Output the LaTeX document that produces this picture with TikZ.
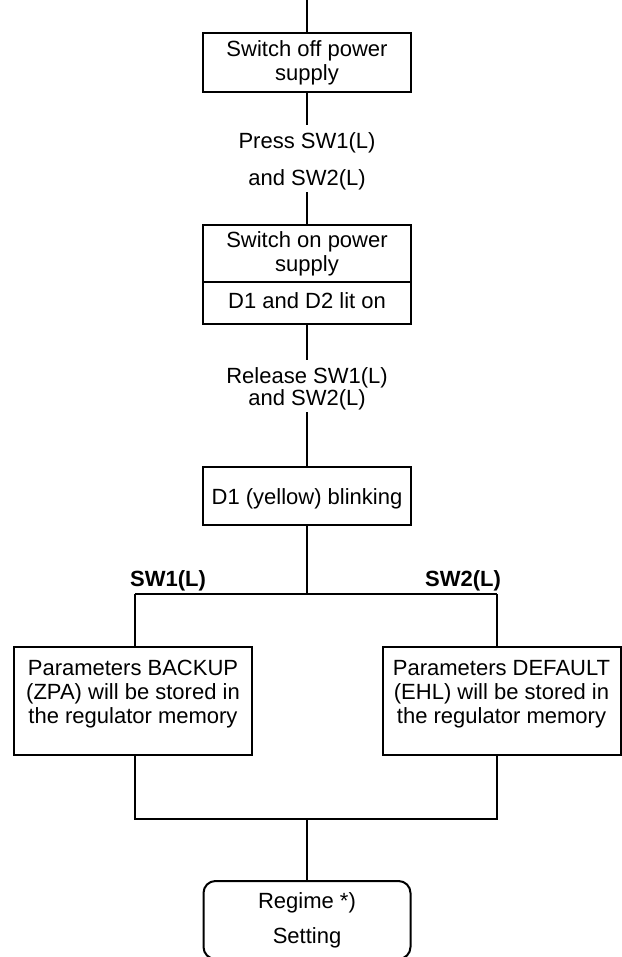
\documentclass[tikz,border=0pt]{standalone}
\usepackage{fontspec}
\setmainfont{Liberation Sans}
\usetikzlibrary{calc}

\begin{document}
\begin{tikzpicture}[line width=1pt,
box/.style={draw=black,rectangle, minimum width=104pt, minimum height=29.5pt, inner sep=2pt, outer sep=0pt, align=center,font=\fontsize{11}{12}\selectfont, execute at begin node={\rule{0pt}{11pt}}},
parbox/.style={box, minimum width=119pt, minimum height=54pt, text depth=9pt},
note/.style={inner sep=1pt, outer sep=0pt,font=\fontsize{11}{12}\selectfont, execute at begin node={\rule{0pt}{11pt}}},
key/.style={note,font=\fontsize{11}{12}\selectfont\bfseries},
final/.style={box, rounded corners=6pt, minimum width=103.5pt, minimum height=39pt}]
	\useasboundingbox (-153.5pt,0) rectangle (157pt,-478.5pt);
	\coordinate (top) at (0,0);
	\node[box,below] at ([yshift=-16.5pt]top) (b1) {Switch off power\\supply};
	\node[note] at ([yshift=-24pt]b1.south) (p1) {Press SW1(L)};
	\node[note] at ([yshift=-18.5pt]p1.center) (p2) {and SW2(L)};
	\node[box,below,minimum height=28.5pt] at ([yshift=-24pt]p2.center) (on) {Switch on power\\supply};
	\node[box,below,minimum height=21pt,text depth=6pt] at (on.south) (lit) {D1 and D2 lit on};
	\node[note] at ([yshift=-25.5pt]lit.south) (r1) {Release SW1(L)};
	\node[note] at ([yshift=-11pt]r1.center) (r2) {and SW2(L)};
	\node[box,minimum height=29pt] at ([yshift=-49.5pt]r2.center) (d1) {D1 (yellow) blinking};
	
	\coordinate (bl) at ([xshift=-86pt,yshift=-34.5pt]d1.south);
	\coordinate (br) at ([xshift=95pt,yshift=-34.5pt]d1.south);
	\node[key] at ([xshift=16.5pt,yshift=8pt]bl) (s1) {SW1(L)};
	\node[key] at ([xshift=-17pt,yshift=8pt]br) (s2) {SW2(L)};
	\node[parbox,below] at ([xshift=-1pt,yshift=-26.5pt]bl) (pl) {Parameters BACKUP\\(ZPA) will be stored in\\the regulator memory};
	\node[parbox,below] at ([xshift=2.25pt,yshift=-26.5pt]br) (pr) {Parameters DEFAULT\\(EHL) will be stored in\\the regulator memory};
	\coordinate (ml) at ([yshift=-112.5pt]bl);
	\coordinate (mr) at ([yshift=-112.5pt]br);
	\coordinate (mc) at (ml -| d1);
	\node[final,below] at ([yshift=-31pt]mc) (reg) {Regime *)\\[5.5pt]Setting};
	
	\draw (top) -- (b1);
	\draw (b1) -- (p1);
	\draw (p2) -- (on);
	\draw (lit) -- (r1);
	\draw (r2) -- (d1);
	\draw (d1) -- (d1 |- bl);
	\draw (bl) -- (br);
	\draw (bl) -- (bl |- pl.north);
	\draw (br) -- (br |- pr.north);
	\draw (bl |- pl.south) -- (ml) -- (mr) -- (br |- pr.south);
	\draw (mc) -- (reg);
\end{tikzpicture}
\end{document}
